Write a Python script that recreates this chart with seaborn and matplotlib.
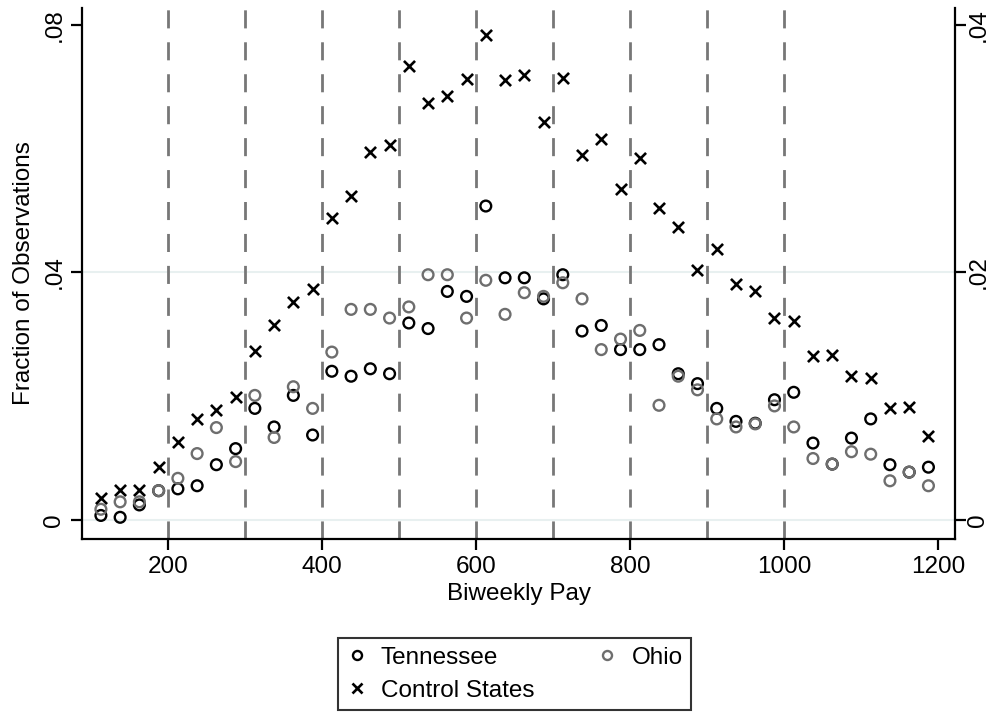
"""Biweekly pay distribution: Tennessee, Ohio and control states."""

import matplotlib
matplotlib.use("Agg")
import matplotlib.pyplot as plt
import matplotlib.ticker as mticker
from matplotlib.lines import Line2D
import seaborn as sns

# bin midpoints of biweekly pay
pay = [112.5, 137.5, 162.5, 187.5, 212.5, 237.5, 262.5, 287.5, 312.5, 337.5,
       362.5, 387.5, 412.5, 437.5, 462.5, 487.5, 512.5, 537.5, 562.5, 587.5,
       612.5, 637.5, 662.5, 687.5, 712.5, 737.5, 762.5, 787.5, 812.5, 837.5,
       862.5, 887.5, 912.5, 937.5, 962.5, 987.5, 1012.5, 1037.5, 1062.5,
       1087.5, 1112.5, 1137.5, 1162.5, 1187.5]

tennessee = [0.0007, 0.0004, 0.0024, 0.0047, 0.0050, 0.0055, 0.0089, 0.0115,
             0.0180, 0.0150, 0.0201, 0.0137, 0.0240, 0.0232, 0.0244, 0.0236,
             0.0318, 0.0309, 0.0369, 0.0361, 0.0507, 0.0391, 0.0391, 0.0357,
             0.0396, 0.0305, 0.0314, 0.0275, 0.0275, 0.0283, 0.0236, 0.0220,
             0.0180, 0.0159, 0.0156, 0.0194, 0.0206, 0.0124, 0.0090, 0.0132,
             0.0163, 0.0089, 0.0077, 0.0085]

ohio = [0.0017, 0.0029, 0.0029, 0.0047, 0.0067, 0.0107, 0.0149, 0.0094,
        0.0201, 0.0133, 0.0215, 0.0180, 0.0271, 0.0340, 0.0340, 0.0326,
        0.0344, 0.0396, 0.0396, 0.0326, 0.0387, 0.0332, 0.0367, 0.0361,
        0.0383, 0.0357, 0.0275, 0.0292, 0.0306, 0.0185, 0.0232, 0.0210,
        0.0163, 0.0150, 0.0155, 0.0184, 0.0150, 0.0099, 0.0090, 0.0110,
        0.0106, 0.0063, 0.0077, 0.0055]

control = [0.0035, 0.00485, 0.00485, 0.0085, 0.0125, 0.0163, 0.0178, 0.0199,
           0.0273, 0.0314, 0.0352, 0.0373, 0.0488, 0.0523, 0.0594, 0.0605,
           0.0734, 0.0674, 0.0685, 0.0713, 0.0784, 0.0710, 0.0718, 0.0643,
           0.0714, 0.0590, 0.0616, 0.0534, 0.0585, 0.0504, 0.0473, 0.0404,
           0.0437, 0.0381, 0.0369, 0.0326, 0.0321, 0.0264, 0.0266, 0.0232,
           0.0229, 0.0180, 0.0183, 0.0135]

cutoffs = [200, 300, 400, 500, 600, 700, 800, 900, 1000]
left_ticks = [0, 0.04, 0.08]
left_labels = ["0", ".04", ".08"]
right_ticks = [0, 0.02, 0.04]
right_labels = ["0", ".02", ".04"]

OHIO_GREY = "#6e6e6e"
FS = 17.5


def main():
    sns.set_style("white")
    plt.rcParams["font.family"] = ["Liberation Sans", "DejaVu Sans"]
    plt.rcParams["font.size"] = FS
    plt.rcParams["text.color"] = "black"
    plt.rcParams["axes.labelcolor"] = "black"

    fig = plt.figure(figsize=(9.92, 7.15), dpi=100)
    ax = fig.add_axes([0.0827, 0.2462, 0.88, 0.7426])

    for y in left_ticks[:2]:
        ax.axhline(y, color="#e8f0f0", lw=1.5, zorder=0)
    for c in cutoffs:
        ax.axvline(c, color="#777777", lw=2.0, dashes=(6.5, 5), zorder=1)

    sns.scatterplot(x=pay, y=tennessee, ax=ax, marker="o", s=60,
                    facecolor="none", edgecolor="black", linewidth=1.7,
                    zorder=3)
    sns.scatterplot(x=pay, y=ohio, ax=ax, marker="o", s=60,
                    facecolor="none", edgecolor=OHIO_GREY, linewidth=1.7,
                    zorder=4)
    sns.scatterplot(x=pay, y=control, ax=ax, marker="x", s=64,
                    color="black", linewidth=1.9, zorder=5)

    ax.set_xlim(88, 1222)
    ax.set_ylim(-0.0031, 0.0827)
    ax.set_xticks([200, 400, 600, 800, 1000, 1200])
    ax.set_yticks(left_ticks)
    ax.set_yticklabels(left_labels, rotation=90, va="center")
    ax.set_xlabel("Biweekly Pay", fontsize=FS, labelpad=4)
    ax.set_ylabel("Fraction of Observations", fontsize=FS, labelpad=6)

    ax2 = ax.twinx()
    ax2.set_ylim(-0.0031 / 2, 0.0827 / 2)
    ax2.set_yticks(right_ticks)
    ax2.set_yticklabels(right_labels, rotation=90, va="center")

    for a in (ax, ax2):
        a.spines["top"].set_visible(False)
        for side in ("left", "right", "bottom"):
            a.spines[side].set_color("black")
            a.spines[side].set_linewidth(1.6)
        a.tick_params(axis="both", which="major", direction="out", length=8,
                      width=1.6, color="black", labelsize=FS, pad=4,
                      labelcolor="black")
    ax2.tick_params(axis="y", pad=1)
    ax.spines["right"].set_visible(False)
    ax2.spines["left"].set_visible(False)
    ax2.spines["bottom"].set_visible(False)
    ax.tick_params(axis="y", left=True, right=False)
    ax.tick_params(axis="x", bottom=True)
    ax.xaxis.set_major_formatter(mticker.FormatStrFormatter("%d"))

    handles = [
        Line2D([], [], ls="none", marker="o", ms=6.5, mfc="none", mec="black",
               mew=1.7),
        Line2D([], [], ls="none", marker="x", ms=6.5, color="black", mew=1.9),
        Line2D([], [], ls="none", marker="o", ms=6.5, mfc="none",
               mec=OHIO_GREY, mew=1.7),
    ]
    labels = ["Tennessee", "Control States", "Ohio"]
    leg = fig.legend(handles, labels, ncol=2, loc="center",
                     bbox_to_anchor=(0.519, 0.0573),
                     bbox_transform=fig.transFigure, frameon=True,
                     fancybox=False, edgecolor="black", fontsize=FS,
                     handlelength=0.8, handletextpad=0.6, columnspacing=2.6,
                     labelspacing=0.45, borderpad=0.35, borderaxespad=0)
    leg.get_frame().set_linewidth(1.5)

    fig.savefig("out.png", dpi=100)


if __name__ == "__main__":
    main()
